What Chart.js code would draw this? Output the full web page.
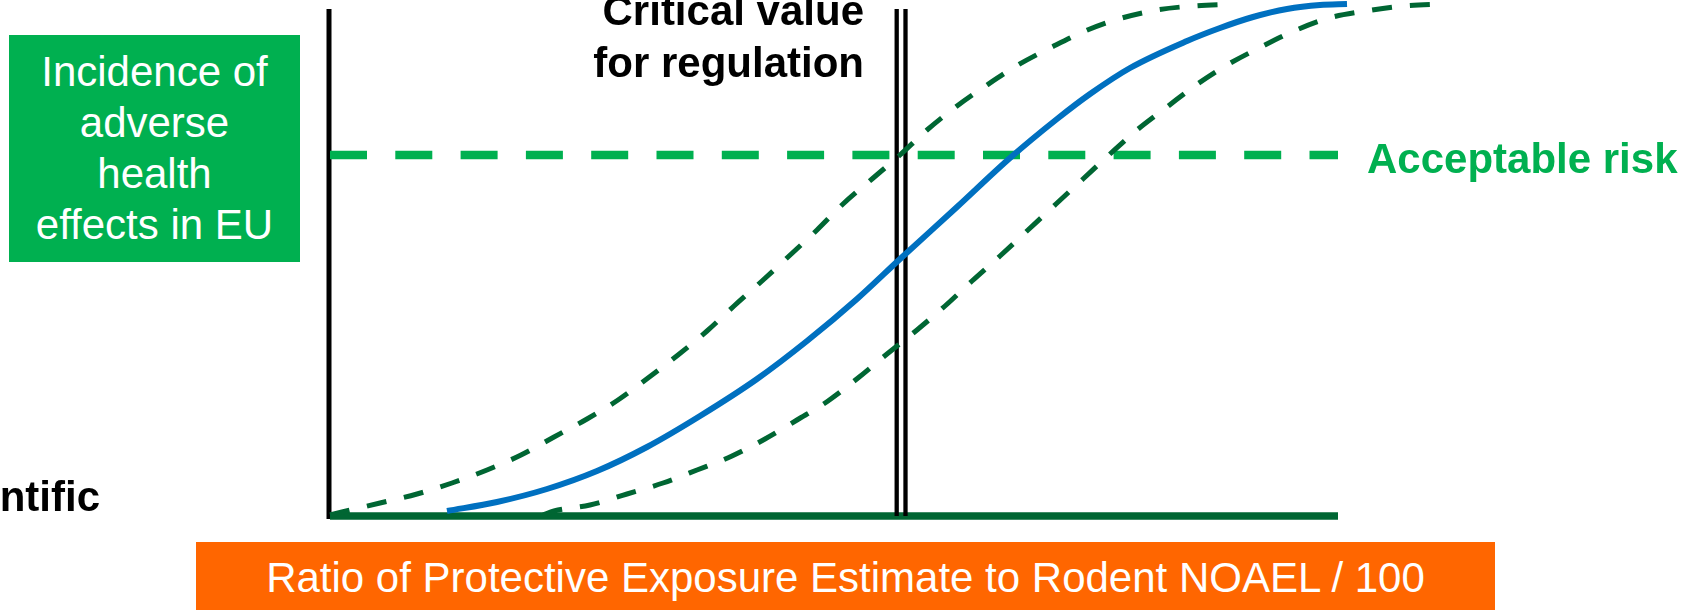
<!DOCTYPE html>
<html>
<head>
<meta charset="utf-8">
<script src="https://cdn.jsdelivr.net/npm/chart.js@4.4.1/dist/chart.umd.min.js"></script>
<style>
    html, body { margin: 0; padding: 0; background: #fff; }
    #wrap {
        position: relative; width: 1693px; height: 610px; overflow: hidden;
        font-family: "Liberation Sans", Arial, sans-serif;
    }
    #chartBox { position: absolute; left: 0; top: 0; width: 1693px; height: 610px; }
    .lbl { position: absolute; font-size: 42px; line-height: 52px; white-space: nowrap; }
    .bold { font-weight: bold; }
    #yBox {
        position: absolute; left: 9px; top: 35px; width: 291px; height: 227px;
        background: #00B050;
    }
    #yBox .lbl { left: 0; top: 11px; width: 291px; text-align: center; color: #fff; line-height: 51px; }
    #xBox {
        position: absolute; left: 196px; top: 542px; width: 1299px; height: 80px;
        background: #FF6600;
    }
    #xBox .lbl { left: 0; top: 10px; width: 1299px; text-align: center; color: #fff; }
</style>
</head>
<body>
<div id="wrap">
    <div id="chartBox"><canvas id="riskChart"></canvas></div>

    <div id="yBox"><div class="lbl">Incidence of<br>adverse<br>health<br>effects in EU</div></div>
    <div id="xBox"><div class="lbl">Ratio of Protective Exposure Estimate to Rodent NOAEL / 100</div></div>

    <div class="lbl bold" style="right:829px; top:-15px; text-align:right; color:#000;">Critical value<br>for regulation</div>
    <div class="lbl bold" style="left:1367px; top:133px; color:#00B050;">Acceptable risk</div>
    <div class="lbl bold" style="right:1593px; top:471px; color:#000;">Scientific</div>
</div>

<script>
// Central dose-response curve
const centralX = [11.8, 16.8, 21.8, 26.8, 31.8, 37.1, 42.8, 47.8, 52.8, 57.1, 62.8,
                  68.1, 72.8, 76.1, 80.1, 85.8, 89.1, 92.4, 95.8, 99.1, 101.8];
const centralY = [1.0, 2.8, 5.4, 9.0, 13.8, 20.0, 27.4, 35.0, 43.4, 51.4, 61.8,
                  71.6, 79.4, 84.4, 89.6, 95.0, 97.6, 99.8, 101.4, 102.2, 102.4];

// Upper uncertainty bound
const upperX = [0.1, 1.3, 5.1, 8.8, 12.3, 15.8, 19.2, 22.5, 25.8, 28.9, 31.9, 34.9, 37.8,
                40.5, 43.3, 45.9, 48.8, 51.4, 54.3, 57.1, 59.8, 62.8, 65.8, 68.9, 72.3,
                75.6, 78.6, 82.8, 86.4, 90.4];
const upperY = [0.2, 0.8, 2.6, 4.4, 6.6, 9.2, 12.2, 15.8, 19.4, 23.2, 27.6, 32.2, 37.0,
                42.0, 47.0, 51.8, 57.2, 62.4, 67.4, 72.2, 77.2, 82.0, 86.2, 90.2, 93.8,
                97.0, 99.2, 101.2, 102.0, 102.4];

// Lower uncertainty bound
const lowerX = [21.4, 22.5, 26.1, 29.8, 33.4, 36.8, 40.3, 43.6, 46.8, 49.9, 52.9, 55.8,
                58.8, 61.6, 64.3, 67.1, 69.9, 72.7, 75.4, 78.1, 80.8, 83.8, 86.7, 89.8,
                93.2, 96.5, 100.0, 103.7, 107.4, 111.8];
const lowerY = [0.2, 1.0, 2.2, 4.4, 6.6, 9.2, 12.0, 15.4, 19.2, 23.0, 27.6, 32.4,
                37.2, 42.0, 47.0, 52.0, 57.2, 62.4, 67.4, 72.4, 77.2, 81.8, 86.2, 90.2,
                93.8, 97.0, 99.6, 101.0, 102.0, 102.4];

const acceptableRisk = 72.2;
const criticalValue = [56.77, 57.65];   // drawn as a double line
const axisTop = 101.4;
const axisEnd = 100.9;

const darkGreen = '#006633';
const green = '#00B050';

function pts(xs, ys) {
    return xs.map((x, i) => ({ x: x, y: ys[i] }));
}

function straight(data, color, width, dash) {
    return {
        data: data,
        borderColor: color,
        borderWidth: width,
        borderDash: dash || [],
        pointRadius: 0,
        tension: 0,
        fill: false,
        clip: false
    };
}

function curve(data, color, width, dash) {
    const ds = straight(data, color, width, dash);
    ds.cubicInterpolationMode = 'monotone';
    return ds;
}

const datasets = [
    curve(pts(centralX, centralY), '#0070C0', 6),
    curve(pts(upperX, upperY), darkGreen, 5, [20, 18]),
    curve(pts(lowerX, lowerY), darkGreen, 5, [20, 18]),
    straight([{ x: criticalValue[0], y: 0 }, { x: criticalValue[0], y: axisTop }], '#000', 4.3),
    straight([{ x: criticalValue[1], y: 0 }, { x: criticalValue[1], y: axisTop }], '#000', 4.3),
    straight([{ x: 0.1, y: acceptableRisk }, { x: axisEnd, y: acceptableRisk }], green, 8.5, [37, 28.3]),
    straight([{ x: 0.1, y: 0 }, { x: axisEnd, y: 0 }], darkGreen, 7.5),
    straight([{ x: 0, y: -0.6 }, { x: 0, y: axisTop }], '#000', 5)
];

new Chart(document.getElementById('riskChart'), {
    type: 'line',
    data: { datasets: datasets },
    options: {
        responsive: true,
        maintainAspectRatio: false,
        animation: false,
        events: [],
        layout: { padding: { left: 329, right: 0, top: 0, bottom: 94 } },
        scales: {
            x: { type: 'linear', min: 0, max: 136.4, display: false },
            y: { type: 'linear', min: 0, max: 103.2, display: false }
        },
        plugins: {
            legend: { display: false },
            tooltip: { enabled: false }
        }
    }
});
</script>
</body>
</html>
